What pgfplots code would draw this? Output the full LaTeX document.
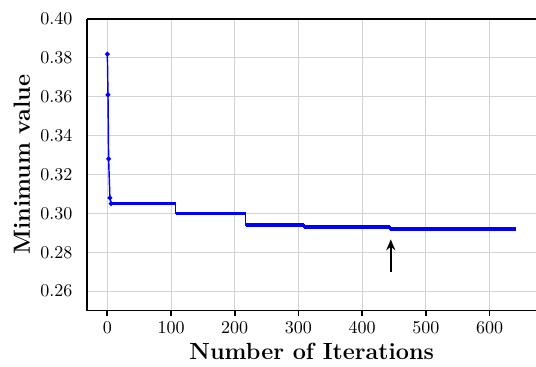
\documentclass[border=0pt]{standalone}
\usepackage{pgfplots}
\pgfplotsset{compat=1.18}
\usetikzlibrary{arrows.meta}
\definecolor{gridgray}{RGB}{211,211,211}
\begin{document}
\begin{tikzpicture}
\useasboundingbox (-48.3pt,-31.1pt) rectangle (249.6pt,172.6pt);
\begin{axis}[
  scale only axis,
  width=250pt, height=162pt,
  xmin=-32.1, xmax=674.1,
  ymin=0.25, ymax=0.40,
  axis x line*=bottom,
  axis y line*=left,
  axis line style={line width=1pt},
  xtick={0,100,200,300,400,500,600},
  ytick={0.26,0.28,0.30,0.32,0.34,0.36,0.38,0.40},
  yticklabel style={xshift=-1.5pt,/pgf/number format/.cd,fixed,fixed zerofill,precision=2},
  scaled y ticks=false,
  tick align=outside,
  xtick style={line width=1pt, black},
  major tick length=3pt,
  ytick style={draw=none},
  grid=major,
  major grid style={gridgray, line width=0.6pt},
  tick label style={font=\fontsize{10}{12}\selectfont},
  xlabel={\fontsize{13}{15}\selectfont\bfseries Number of Iterations},
  ylabel={\fontsize{13}{15}\selectfont\bfseries Minimum value},
  xlabel style={yshift=2pt},
  ylabel style={yshift=-1pt},
  clip=false,
]
\addplot[blue, line width=0.8pt, mark=*, mark size=0.9pt] coordinates {
  (0,0.382) (1,0.361) (2,0.328) (4,0.308) (6,0.305)
};
\addplot[blue, line width=0.8pt] coordinates {
  (6,0.305) (107,0.305) (107,0.300) (217,0.300) (217,0.294) (309,0.294)
  (309,0.293) (444,0.293) (444,0.292) (642,0.292)
};
\addplot[blue, line width=2pt, unbounded coords=jump] coordinates {
  (6,0.305) (107,0.305) (107,nan)
  (107,0.300) (217,0.300) (217,nan)
  (217,0.294) (309,0.294) (309,nan)
  (309,0.293) (444,0.293) (444,nan)
  (444,0.292) (642,0.292)
};
\draw[line width=1pt, -{Stealth[length=6pt,width=5pt]}] (axis cs:445,0.2697) -- (axis cs:445,0.2866);
\draw[line width=1pt] (rel axis cs:0,1) -- (rel axis cs:1,1);
\end{axis}
\end{tikzpicture}
\end{document}
